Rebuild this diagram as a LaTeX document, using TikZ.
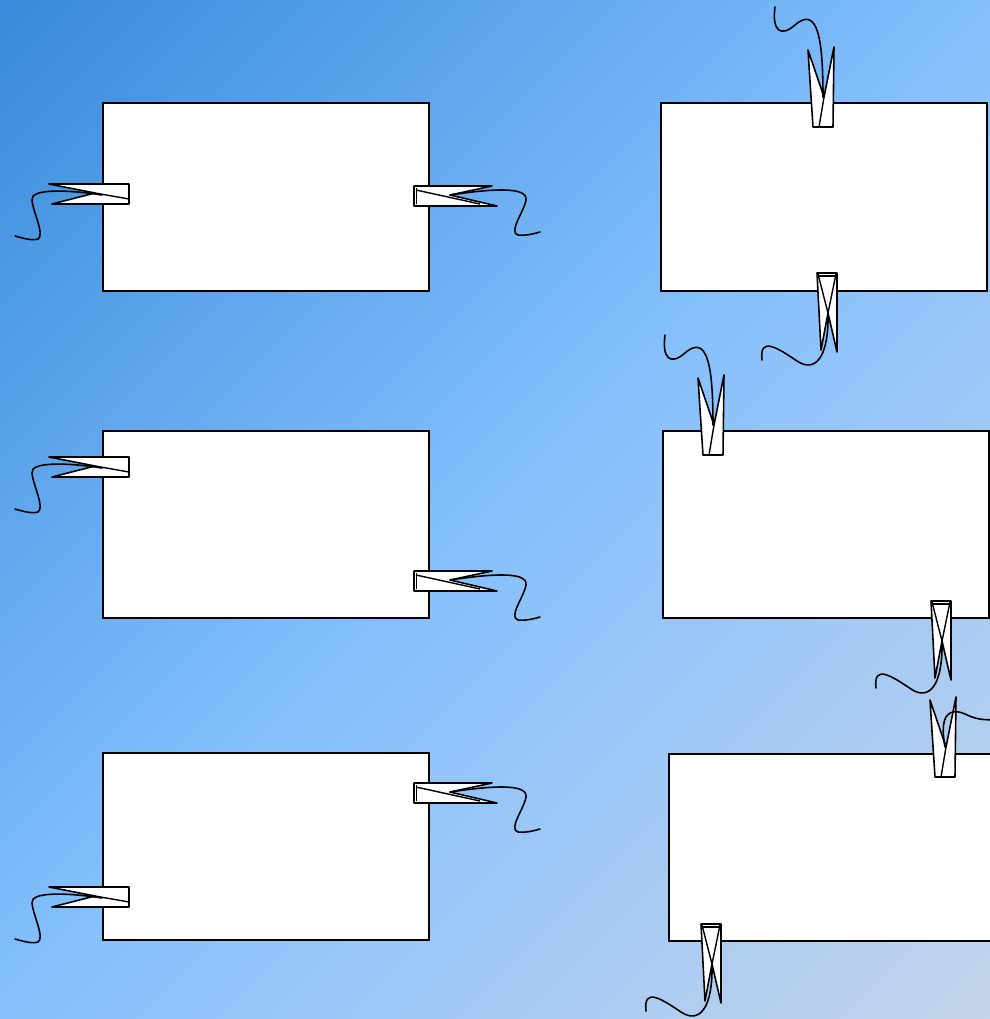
\documentclass[tikz,border=0pt]{standalone}
\definecolor{bgA}{HTML}{378ADA}
\definecolor{bgB}{HTML}{85C0FD}
\definecolor{bgC}{HTML}{C4D4EA}
\tikzset{
  panel/.style={draw=black, fill=white, line width=0.9pt, inner sep=0pt, outer sep=0pt},
  plugbody/.style={draw=black, fill=white, line width=0.9pt, line join=round},
  plugedge/.style={draw=black, line width=0.8pt},
  cablepath/.style={draw=black, line width=0.9pt, line cap=round},
  rightplug/.pic={
    \draw[plugbody] (0,-10) -- (78,-10) -- (36,-1) -- (83,10) -- (0,10) -- cycle;
    \draw[plugedge] (2,-6) -- (66,8);
    \draw[plugedge] (2.5,-8) -- (2.5,8);
    \draw[cablepath] (36,-1) .. controls (76,-7) and (114,-10) .. (112,4)
       .. controls (110,16) and (94,36) .. (104,39)
       .. controls (111,40) and (119,38) .. (126,36);
  },
  leftplug/.pic={
    \draw[plugbody] (0,-10) -- (-80,-10) -- (-34,-1) -- (-77,10) -- (0,10) -- cycle;
    \draw[plugedge] (-34,-1) -- (0,5);
    \draw[cablepath] (-27,1) .. controls (-59,-4) and (-99,-6) .. (-97,6)
       .. controls (-96,18) and (-84,41) .. (-91,45)
       .. controls (-97,47) and (-107,44) .. (-114,42);
  },
  upbody/.pic={
    \draw[plugbody] (-8,0) -- (-13,-77) -- (3,-30) -- (13,-80) -- (12,0) -- cycle;
    \draw[plugedge] (3,-30) -- (-2,0);
  },
  upcable/.pic={
    \draw[cablepath] (2,-30) .. controls (2,-87) and (-3,-122) .. (-26,-102)
       .. controls (-41,-89) and (-49,-97) .. (-46,-120);
  },
  downplug/.pic={
    \draw[plugbody] (-10,0) -- (-6,77) -- (1,40) -- (10,79) -- (10,0) -- cycle;
    \draw[plugedge] (-9,1) -- (1,40) (9,1) -- (1,40);
    \draw[plugedge] (-8,3) -- (8,3);
    \draw[cablepath] (1,40) .. controls (2,85) and (-12,100) .. (-30,88)
       .. controls (-48,76) and (-68,62) .. (-65,87);
  }
}
\begin{document}
\begin{tikzpicture}[x=0.02cm, y=-0.02cm]
\useasboundingbox (0,0) rectangle (990,1019);
\clip (0,0) rectangle (990,1019);
\begin{scope}[transform canvas={rotate around={45:(495,509.5)}}]
  \shade[top color=bgA, bottom color=bgC, middle color=bgB]
    (-255,-200.5) rectangle (1245,1219.5);
\end{scope}

% panels
\node[panel, minimum width=6.52cm, minimum height=3.76cm] (b1) at (266,197) {};
\node[panel, minimum width=6.52cm, minimum height=3.74cm] (b2) at (266,524.5) {};
\node[panel, minimum width=6.52cm, minimum height=3.74cm] (b3) at (266,846.5) {};
\node[panel, minimum width=6.52cm, minimum height=3.76cm] (b4) at (824,197) {};
\node[panel, minimum width=6.52cm, minimum height=3.74cm] (b5) at (826,524.5) {};
\node[panel, minimum width=6.60cm, minimum height=3.74cm] (b6) at (834,847.5) {};

% left column connectors
\pic at (129,194) {leftplug};
\pic at (414,196) {rightplug};
\pic at (129,467) {leftplug};
\pic at (414,581) {rightplug};
\pic at (414,793) {rightplug};
\pic at (129,897) {leftplug};

% right column connectors
\pic at (821,127) {upbody};
\pic at (821,127) {upcable};
\pic at (827,273) {downplug};
\pic at (711,455) {upbody};
\pic at (711,455) {upcable};
\pic at (941,601) {downplug};
\pic at (943,777) {upbody};
\draw[cablepath] (945,747) .. controls (939,715) and (949,707) .. (965,714)
   .. controls (975,719) and (985,721) .. (998,719);
\pic at (711,924) {downplug};
\end{tikzpicture}
\end{document}
